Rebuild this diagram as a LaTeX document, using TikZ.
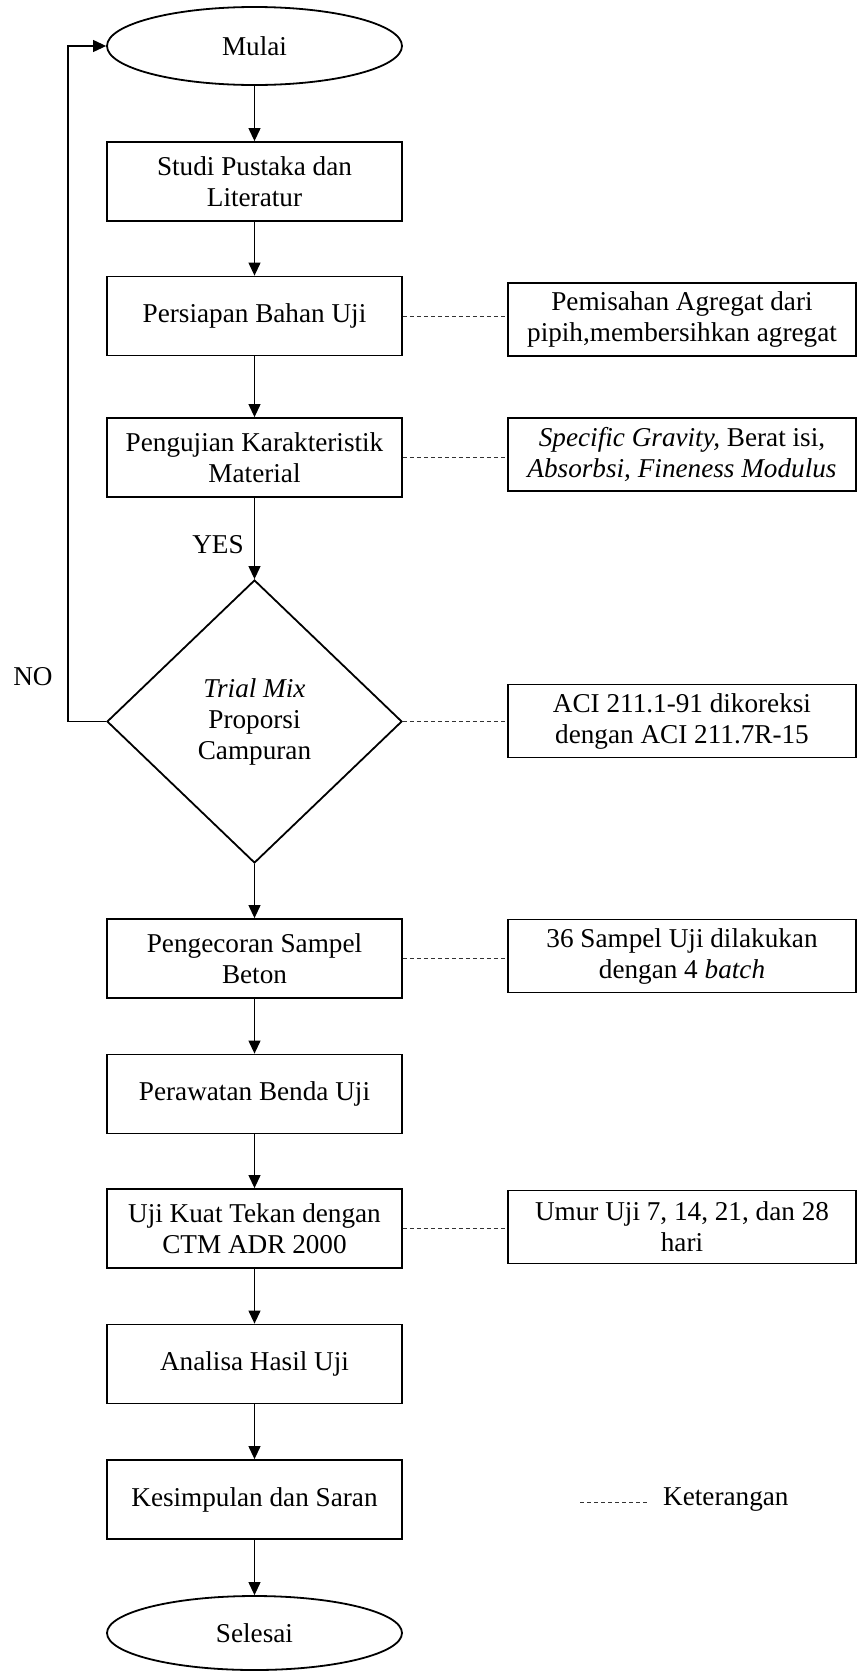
\documentclass[tikz,border=0pt]{standalone}
\usepackage{fontspec}
\setmainfont{Liberation Serif}
\usetikzlibrary{shapes.geometric,arrows.meta}
\newcommand\mainfs{\fontsize{27.2}{31}\selectfont}
\begin{document}
\begin{tikzpicture}[x=1pt,y=-1pt,
  every node/.style={font=\mainfs},
  box/.style={draw, line width=1.8pt, minimum width=295pt, minimum height=79pt, inner sep=0pt, align=center},
  notebox/.style={draw, line width=1.8pt, minimum width=348pt, minimum height=73pt, inner sep=0pt, align=center},
  term/.style={draw, ellipse, line width=1.8pt, minimum width=295pt, minimum height=78pt, inner sep=0pt},
  decision/.style={draw, diamond, line width=1.8pt, minimum width=295pt, minimum height=283pt, inner sep=0pt, align=center},
  flow/.style={line width=1.1pt, -{Triangle[length=13pt,width=12pt]}},
  note/.style={line width=0.8pt, dash pattern=on 4pt off 3pt, black!80}
]
\useasboundingbox (0,0) rectangle (858,1671);

% main column
\node[term] (mulai) at (254.5,46) {Mulai};
\node[box] (studi) at (254.5,181.5) {Studi Pustaka dan\\Literatur};
\node[box] (persiapan) at (254.5,316) {Persiapan Bahan Uji};
\node[box] (pengujian) at (254.5,457.5) {Pengujian Karakteristik\\Material};
\node[decision] (trial) at (254.5,721.5) {\textit{Trial Mix}\\Proporsi\\Campuran};
\node[box] (pengecoran) at (254.5,958.5) {Pengecoran Sampel\\Beton};
\node[box] (perawatan) at (254.5,1094) {Perawatan Benda Uji};
\node[box] (uji) at (254.5,1228.5) {Uji Kuat Tekan dengan\\CTM ADR 2000};
\node[box] (analisa) at (254.5,1364) {Analisa Hasil Uji};
\node[box] (kesimpulan) at (254.5,1499.5) {Kesimpulan dan Saran};
\node[term, minimum height=74pt] (selesai) at (254.5,1633) {Selesai};

% notes column
\node[notebox] (pemisahan) at (682,319.5) {Pemisahan Agregat dari\\pipih,membersihkan agregat};
\node[notebox] (specific) at (682,454.5) {\textit{Specific Gravity,} Berat isi,\\\textit{Absorbsi, Fineness Modulus}};
\node[notebox] (aci) at (682,721) {ACI 211.1-91 dikoreksi\\dengan ACI 211.7R-15};
\node[notebox] (sampel) at (682,956) {36 Sampel Uji dilakukan\\dengan 4 \textit{batch}};
\node[notebox] (umur) at (682,1227) {Umur Uji 7, 14, 21, dan 28\\hari};

% labels
\node (yes) at (218,545) {YES};
\node (no) at (33,677) {NO};

% flow arrows
\draw[flow] (mulai) -- (studi);
\draw[flow] (studi) -- (persiapan);
\draw[flow] (persiapan) -- (pengujian);
\draw[flow] (pengujian) -- (trial);
\draw[flow] (trial) -- (pengecoran);
\draw[flow] (pengecoran) -- (perawatan);
\draw[flow] (perawatan) -- (uji);
\draw[flow] (uji) -- (analisa);
\draw[flow] (analisa) -- (kesimpulan);
\draw[flow] (kesimpulan) -- (selesai);
\coordinate (loopx) at (68,0);
\draw[flow] (trial.west) -- (loopx |- trial.west) -- (loopx |- mulai.west) -- (mulai.west);

% note connectors
\draw[note] (persiapan.east) -- (pemisahan.west |- persiapan.east);
\draw[note] (pengujian.east) -- (specific.west |- pengujian.east);
\draw[note] (trial.east) -- (aci.west |- trial.east);
\draw[note] (pengecoran.east) -- (sampel.west |- pengecoran.east);
\draw[note] (uji.east) -- (umur.west |- uji.east);

% legend
\coordinate (lega) at (580,1502);
\coordinate (legb) at (647,1502);
\draw[note] (lega) -- (legb);
\node[anchor=west, inner sep=0pt] (ket) at (663,1500) {Keterangan};
\end{tikzpicture}
\end{document}
